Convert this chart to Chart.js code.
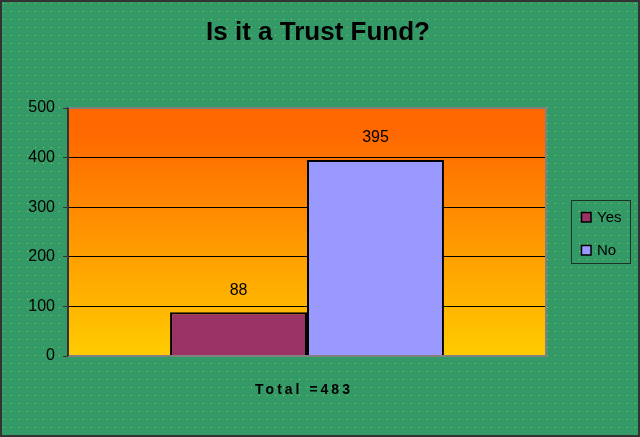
<!DOCTYPE html>
<html>
<head>
<meta charset="utf-8">
<title>Is it a Trust Fund?</title>
<script src="https://cdn.jsdelivr.net/npm/chart.js@4/dist/chart.umd.min.js"></script>
<style>
    html, body { margin: 0; padding: 0; background: #339966; }
    #wrap { width: 640px; height: 437px; }
</style>
</head>
<body>
<div id="wrap"><canvas id="trust-fund"></canvas></div>
<script>
    "use strict";

    // Data
    var chartTitle = "Is it a Trust Fund?";
    var categories = [""];
    var seriesNames = ["Yes", "No"];
    var yesValues = [88];
    var noValues = [395];
    var yTicks = [0, 100, 200, 300, 400, 500];
    var totalLabel = "Total =483";

    var FONT = "Arial, 'Liberation Sans', sans-serif";

    // Dotted green background
    var dots = document.createElement("canvas");
    dots.width = 8;
    dots.height = 8;
    var dctx = dots.getContext("2d");
    dctx.fillStyle = "#339966";
    dctx.fillRect(0, 0, 8, 8);
    dctx.fillStyle = "#99cc33";
    dctx.fillRect(3, 3, 1, 1);

    var backdrop = {
        id: "backdrop",
        beforeDraw: function (chart) {
            var ctx = chart.ctx, a = chart.chartArea;
            ctx.save();
            ctx.fillStyle = ctx.createPattern(dots, "repeat");
            ctx.fillRect(0, 0, chart.width, chart.height);
            var g = ctx.createLinearGradient(0, a.top, 0, a.bottom);
            g.addColorStop(0, "#ff6600");
            g.addColorStop(0.12, "#ff6a00");
            g.addColorStop(1, "#ffcc00");
            ctx.fillStyle = g;
            ctx.fillRect(a.left, a.top, a.right - a.left, a.bottom - a.top);
            ctx.restore();
        },
        afterDraw: function (chart) {
            var ctx = chart.ctx, a = chart.chartArea;
            ctx.save();
            // plot border
            ctx.strokeStyle = "#808080";
            ctx.lineWidth = 2;
            ctx.beginPath();
            ctx.moveTo(a.left, a.top);
            ctx.lineTo(a.right, a.top);
            ctx.lineTo(a.right, a.bottom);
            ctx.lineTo(a.left, a.bottom);
            ctx.stroke();
            ctx.strokeStyle = "#333333";
            ctx.beginPath();
            ctx.moveTo(a.left, a.top);
            ctx.lineTo(a.left, a.bottom);
            ctx.stroke();

            // title
            ctx.fillStyle = "#000";
            ctx.textAlign = "center";
            ctx.textBaseline = "middle";
            ctx.font = "bold 26px " + FONT;
            ctx.fillText(chartTitle, 318, 33);

            // x axis title
            ctx.font = "bold 14px " + FONT;
            ctx.letterSpacing = "3px";
            ctx.fillText(totalLabel, 304, 390);
            ctx.letterSpacing = "0px";

            // legend
            var lx = 571, ly = 200, lw = 59, lh = 63;
            ctx.strokeStyle = "#1a3322";
            ctx.lineWidth = 1;
            ctx.strokeRect(lx + 0.5, ly + 0.5, lw, lh);
            ctx.font = "15px " + FONT;
            ctx.textAlign = "left";
            chart.data.datasets.forEach(function (ds, i) {
                var cy = ly + 17 + i * 33;
                ctx.fillStyle = ds.backgroundColor;
                ctx.fillRect(lx + 10, cy - 5, 10, 10);
                ctx.strokeStyle = "#000";
                ctx.lineWidth = 1.5;
                ctx.strokeRect(lx + 10.5, cy - 4.5, 9.5, 9.5);
                ctx.fillStyle = "#000";
                ctx.fillText(ds.label, lx + 26, cy + 1);
            });

            // outer frame
            ctx.strokeStyle = "#333333";
            ctx.lineWidth = 2;
            ctx.strokeRect(1, 1, chart.width - 2, chart.height - 2);
            ctx.restore();
        },
        afterDatasetsDraw: function (chart) {
            var ctx = chart.ctx;
            ctx.save();
            ctx.fillStyle = "#000";
            ctx.font = "16px " + FONT;
            ctx.textAlign = "center";
            ctx.textBaseline = "middle";
            chart.data.datasets.forEach(function (ds, i) {
                chart.getDatasetMeta(i).data.forEach(function (bar, j) {
                    ctx.fillText(ds.data[j], bar.x, bar.y - 22);
                });
            });
            ctx.restore();
        }
    };

    var ctx = document.getElementById("trust-fund").getContext("2d");
    var myChart = new Chart(ctx, {
        type: "bar",
        data: {
            labels: categories,
            datasets: [{
                label: seriesNames[0],
                data: yesValues,
                backgroundColor: "#993366",
                borderColor: "#000",
                borderWidth: 2
            },
            {
                label: seriesNames[1],
                data: noValues,
                backgroundColor: "#9999ff",
                borderColor: "#000",
                borderWidth: 2
            }]
        },
        options: {
            responsive: true,
            maintainAspectRatio: false,
            animation: false,
            layout: { padding: { left: 0, right: 94, top: 108, bottom: 0 } },
            plugins: {
                legend: { display: false },
                tooltip: { enabled: false },
                title: { display: false }
            },
            datasets: {
                bar: { categoryPercentage: 0.573, barPercentage: 1 }
            },
            scales: {
                x: {
                    ticks: { display: false },
                    grid: { display: false },
                    border: { display: false },
                    afterFit: function (s) { s.height = 81; }
                },
                y: {
                    min: 0,
                    max: 500,
                    afterBuildTicks: function (s) {
                        s.ticks = yTicks.map(function (v) { return { value: v }; });
                    },
                    ticks: {
                        color: "#000",
                        padding: 8,
                        font: { family: FONT, size: 16 }
                    },
                    grid: {
                        color: function (c) {
                            return (c.tick && (c.tick.value === 0 || c.tick.value === 500)) ? "rgba(0,0,0,0)" : "#000";
                        },
                        tickColor: "#333333",
                        tickLength: 5,
                        lineWidth: 1
                    },
                    border: { color: "#333333", width: 2 },
                    afterFit: function (s) { s.width = 68; }
                }
            }
        },
        plugins: [backdrop]
    });
</script>
</body>
</html>
